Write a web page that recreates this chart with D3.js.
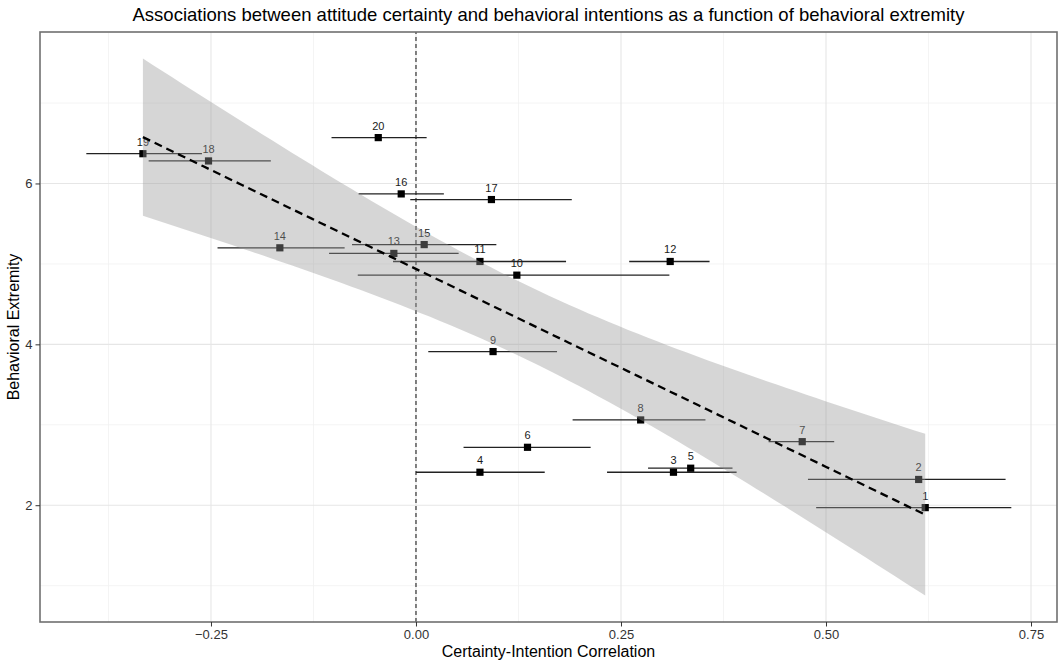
<!DOCTYPE html>
<html>
<head>
<meta charset="utf-8">
<script src="https://cdn.jsdelivr.net/npm/d3@7"></script>
<style>
  body { margin: 0; background: #fff; }
  text { font-family: "Liberation Sans", Arial, sans-serif; }
</style>
</head>
<body>
<div id="chart"></div>
<script>
// study ids, correlation (x), extremity (y) and CI for the correlation
const studyIds = [1, 2, 3, 4, 5, 6, 7, 8, 9, 10, 11, 12, 13, 14, 15, 16, 17, 18, 19, 20];
const corr =    [0.621, 0.613, 0.314, 0.078, 0.335, 0.136, 0.471, 0.274, 0.094, 0.123,
                 0.078, 0.310, -0.027, -0.166, 0.010, -0.018, 0.092, -0.253, -0.333, -0.046];
const extremity = [1.97, 2.32, 2.41, 2.41, 2.46, 2.72, 2.79, 3.06, 3.91, 4.86,
                   5.03, 5.03, 5.13, 5.20, 5.24, 5.87, 5.80, 6.28, 6.37, 6.57];
const ciLow =   [0.488, 0.478, 0.233, 0.000, 0.283, 0.058, 0.430, 0.191, 0.015, -0.071,
                 -0.028, 0.260, -0.106, -0.242, -0.078, -0.070, -0.007, -0.326, -0.402, -0.103];
const ciHigh =  [0.726, 0.719, 0.391, 0.157, 0.386, 0.213, 0.510, 0.353, 0.172, 0.309,
                 0.183, 0.358, 0.052, -0.087, 0.098, 0.034, 0.190, -0.177, -0.261, 0.013];

const xTicks = [-0.25, 0, 0.25, 0.5, 0.75];
const xMinor = [-0.375, -0.125, 0.125, 0.375, 0.625];
const yTicks = [2, 4, 6];
const yMinor = [1, 3, 5, 7];

const width = 1063, height = 664;
const margin = {top: 32, right: 6, bottom: 42, left: 40};

const svg = d3.select("#chart")
  .append("svg")
  .attr("width", width)
  .attr("height", height);

const x = d3.scaleLinear()
  .domain([-0.4585, 0.7817])
  .range([margin.left, width - margin.right]);

const y = d3.scaleLinear()
  .domain([0.548, 7.883])
  .range([height - margin.bottom, margin.top]);

const x0 = margin.left, x1 = width - margin.right;
const y0 = height - margin.bottom, y1 = margin.top;

// grid lines
const grid = svg.append("g");
grid.selectAll(".xminor").data(xMinor).join("line")
  .attr("x1", d => x(d)).attr("x2", d => x(d))
  .attr("y1", y0).attr("y2", y1)
  .attr("stroke", "#f1f1f1").attr("stroke-width", 0.8);
grid.selectAll(".yminor").data(yMinor).join("line")
  .attr("x1", x0).attr("x2", x1)
  .attr("y1", d => y(d)).attr("y2", d => y(d))
  .attr("stroke", "#f1f1f1").attr("stroke-width", 0.8);
grid.selectAll(".xmajor").data(xTicks).join("line")
  .attr("x1", d => x(d)).attr("x2", d => x(d))
  .attr("y1", y0).attr("y2", y1)
  .attr("stroke", "#e6e6e6").attr("stroke-width", 1.1);
grid.selectAll(".ymajor").data(yTicks).join("line")
  .attr("x1", x0).attr("x2", x1)
  .attr("y1", d => y(d)).attr("y2", d => y(d))
  .attr("stroke", "#e6e6e6").attr("stroke-width", 1.1);

// vertical reference line at zero
svg.append("line")
  .attr("x1", x(0)).attr("x2", x(0))
  .attr("y1", y0).attr("y2", y1)
  .attr("stroke", "#333")
  .attr("stroke-width", 1.2)
  .attr("stroke-dasharray", "4,3");

const rows = studyIds.map((id, i) => ({
  id: id, r: corr[i], e: extremity[i], lo: ciLow[i], hi: ciHigh[i]
}));

// error bars
svg.append("g").selectAll("line").data(rows).join("line")
  .attr("x1", d => x(d.lo)).attr("x2", d => x(d.hi))
  .attr("y1", d => y(d.e)).attr("y2", d => y(d.e))
  .attr("stroke", "#222")
  .attr("stroke-width", 1.3);

// points
svg.append("g").selectAll("rect").data(rows).join("rect")
  .attr("x", d => x(d.r) - 3.6)
  .attr("y", d => y(d.e) - 3.6)
  .attr("width", 7.2)
  .attr("height", 7.2)
  .attr("fill", "#000");

// labels
svg.append("g").selectAll("text").data(rows).join("text")
  .attr("x", d => x(d.r))
  .attr("y", d => y(d.e) - 8)
  .attr("text-anchor", "middle")
  .attr("fill", "#1a1a1a")
  .style("font-size", "11px")
  .text(d => d.id);

// linear fit with 95% confidence band (like geom_smooth(method = "lm"))
const n = corr.length;
const mx = d3.mean(corr), my = d3.mean(extremity);
const sxx = d3.sum(corr, v => (v - mx) ** 2);
const sxy = d3.sum(corr, (v, i) => (v - mx) * (extremity[i] - my));
const slope = sxy / sxx;
const intercept = my - slope * mx;
const sse = d3.sum(corr, (v, i) => (extremity[i] - (intercept + slope * v)) ** 2);
const sigma = Math.sqrt(sse / (n - 2));
const tCrit = 2.1009; // t(0.975, df = 18)

const [fmin, fmax] = d3.extent(corr);
const fit = d3.range(80).map(i => {
  const xv = fmin + i * (fmax - fmin) / 79;
  const yv = intercept + slope * xv;
  const se = sigma * Math.sqrt(1 / n + (xv - mx) ** 2 / sxx);
  return {x: xv, y: yv, lo: yv - tCrit * se, hi: yv + tCrit * se};
});

svg.append("path")
  .datum(fit)
  .attr("fill", "#999999")
  .attr("fill-opacity", 0.4)
  .attr("d", d3.area().x(d => x(d.x)).y0(d => y(d.lo)).y1(d => y(d.hi)));

svg.append("path")
  .datum(fit)
  .attr("fill", "none")
  .attr("stroke", "#000")
  .attr("stroke-width", 2.3)
  .attr("stroke-dasharray", "8,5")
  .attr("d", d3.line().x(d => x(d.x)).y(d => y(d.y)));

// panel border
svg.append("rect")
  .attr("x", x0).attr("y", y1)
  .attr("width", x1 - x0).attr("height", y0 - y1)
  .attr("fill", "none")
  .attr("stroke", "#707070")
  .attr("stroke-width", 1.6);

// axes
const xAxis = svg.append("g")
  .attr("transform", `translate(0,${y0})`)
  .call(d3.axisBottom(x).tickValues(xTicks).tickFormat(d3.format(".2f")).tickSize(4.5).tickPadding(3));
const yAxis = svg.append("g")
  .attr("transform", `translate(${x0},0)`)
  .call(d3.axisLeft(y).tickValues(yTicks).tickFormat(d3.format("d")).tickSize(4.5).tickPadding(3));

[xAxis, yAxis].forEach(g => {
  g.select(".domain").remove();
  g.selectAll(".tick line").attr("stroke", "#333");
  g.selectAll(".tick text")
    .attr("fill", "#333")
    .style("font-size", "13px")
    .style("font-family", "'Liberation Sans', Arial, sans-serif");
});

// titles
svg.append("text")
  .attr("x", (x0 + x1) / 2)
  .attr("y", 21)
  .attr("text-anchor", "middle")
  .attr("fill", "#000")
  .style("font-size", "18.5px")
  .text("Associations between attitude certainty and behavioral intentions as a function of behavioral extremity");

svg.append("text")
  .attr("x", (x0 + x1) / 2)
  .attr("y", 657)
  .attr("text-anchor", "middle")
  .attr("fill", "#000")
  .style("font-size", "16px")
  .text("Certainty-Intention Correlation");

svg.append("text")
  .attr("transform", `translate(19,${(y0 + y1) / 2}) rotate(-90)`)
  .attr("text-anchor", "middle")
  .attr("fill", "#000")
  .style("font-size", "16px")
  .text("Behavioral Extremity");
</script>
</body>
</html>
